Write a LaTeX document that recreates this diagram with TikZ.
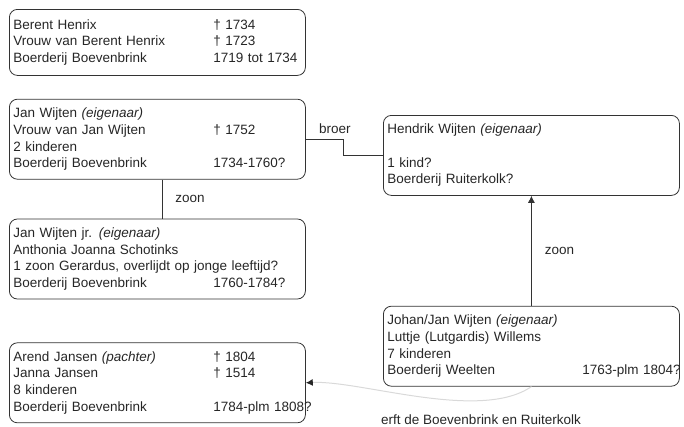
\documentclass[tikz,border=0pt]{standalone}
\usepackage{fontspec}
\setmainfont{Liberation Sans}
\usepackage{tikz}
\usetikzlibrary{arrows.meta,positioning}
\newcommand{\kol}[3][200pt]{\makebox[#1][l]{#2}\rlap{#3}}

\begin{document}
\begin{tikzpicture}[x=1pt, y=-1pt,
    persoon/.style={rectangle, draw=black!80, line width=0.8pt, rounded corners=8pt,
        text width=288pt, inner xsep=4pt, inner ysep=0pt, minimum height=80pt,
        align=left, text=black!85, font=\fontsize{13.5}{16.7}\selectfont},
    tekst/.style={inner sep=0pt, text=black!85, font=\fontsize{13.5}{16.7}\selectfont},
    lijn/.style={draw=black!80, line width=0.8pt},
    pijl/.style={lijn, -{Latex[length=7pt,width=7pt]}},
    erft/.style={draw=black!15, line width=1pt, -{Latex[length=7pt,width=7pt,color=black!85]}}
]
    \useasboundingbox (0,0) rectangle (684,426);

    % Boevenbrink, left column
    \node[persoon, minimum height=66pt, anchor=north west] (berent) at (9,9)
        {\kol{Berent Henrix}{† 1734}\\
         \kol{Vrouw van Berent Henrix}{† 1723}\\
         \kol{Boerderij Boevenbrink}{1719 tot 1734}};

    \node[persoon, below=23pt of berent] (janw)
        {Jan Wijten \textit{(eigenaar)}\\
         \kol{Vrouw van Jan Wijten}{† 1752}\\
         2 kinderen\\
         \kol{Boerderij Boevenbrink}{1734-1760?}};

    \node[persoon, below=39pt of janw] (janjr)
        {Jan Wijten jr. \textit{(eigenaar)}\\
         Anthonia Joanna Schotinks\\
         1 zoon Gerardus, overlijdt op jonge leeftijd?\\
         \kol{Boerderij Boevenbrink}{1760-1784?}};

    \node[persoon, below=43pt of janjr] (arend)
        {\kol{Arend Jansen \textit{(pachter)}}{† 1804}\\
         \kol{Janna Jansen}{† 1514}\\
         8 kinderen\\
         \kol{Boerderij Boevenbrink}{1784-plm 1808?}};

    % Ruiterkolk / Weelten, right column
    \node[persoon, anchor=north west] (hendrik) at (383,115)
        {Hendrik Wijten \textit{(eigenaar)}\\
         \mbox{}\\
         1 kind?\\
         Boerderij Ruiterkolk?};

    \node[persoon, below=110pt of hendrik] (johan)
        {Johan/Jan Wijten \textit{(eigenaar)}\\
         Luttje (Lutgardis) Willems\\
         7 kinderen\\
         \kol[195pt]{Boerderij Weelten}{1763-plm 1804?}};

    % Connectors
    \draw[lijn] ([xshift=153pt]janw.south west) --
        node[tekst, right=13pt] {zoon} ([xshift=153pt]janjr.north west);
    \draw[lijn] (janw.east) -- node[tekst, above=5pt, xshift=10pt] {broer}
        ++(38,0) |- (hendrik.west);
    \draw[pijl] (johan.north) -- node[tekst, right=13pt] {zoon} (hendrik.south);
    \draw[erft] (johan.south) .. controls (480,422) and (360,380) .. (arend.east);

    \node[tekst, anchor=west] (erftlbl) at ([xshift=-2pt,yshift=-33pt]johan.south west)
        {erft de Boevenbrink en Ruiterkolk};
\end{tikzpicture}
\end{document}
